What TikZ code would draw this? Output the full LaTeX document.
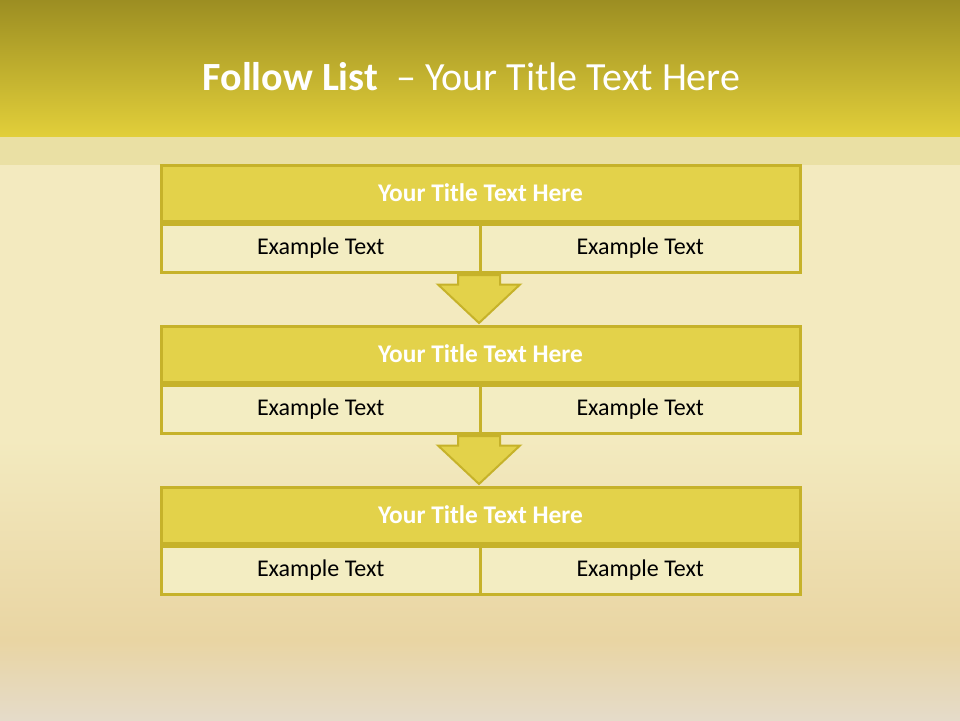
\documentclass[tikz,border=0pt]{standalone}
\usepackage{fontspec}
\setmainfont{Carlito}
\usetikzlibrary{calc}
\definecolor{bandtop}{HTML}{9C8E22}
\definecolor{bandbot}{HTML}{E2CF3A}
\definecolor{stripfill}{HTML}{EAE0A4}
\definecolor{paper}{HTML}{F3EABF}
\definecolor{paperlow}{HTML}{E9D5A3}
\definecolor{paperbot}{HTML}{E5DBC9}
\definecolor{boxline}{HTML}{C6B22A}
\definecolor{headfill}{HTML}{E3D24A}
\definecolor{cellfill}{HTML}{F3EDC2}
\begin{document}
\begin{tikzpicture}[x=1pt,y=-1pt,
  head/.style={draw=boxline,line width=3pt,fill=headfill,minimum width=639pt,minimum height=56pt,
    inner sep=0pt,text=white,font=\fontsize{25.4}{30}\selectfont\bfseries},
  cell/.style={draw=boxline,line width=3pt,fill=cellfill,minimum width=319.5pt,minimum height=48pt,
    inner sep=0pt,font=\fontsize{24}{28}\selectfont},
  flow/.style={draw=boxline,line width=2pt,fill=headfill}]
  \useasboundingbox (0,0) rectangle (960,720);
  % background
  \fill[paper] (0,0) rectangle (960,720);
  \shade[top color=paper,bottom color=paperlow] (0,440) rectangle (960,640);
  \shade[top color=paperlow,bottom color=paperbot] (0,640) rectangle (960,720);
  \shade[top color=bandtop,bottom color=bandbot] (0,0) rectangle (960,137);
  \fill[stripfill] (0,137) rectangle (960,165);
  \node[anchor=base,text=white,font=\fontsize{40}{48}\selectfont] (title) at (471.5,90)
    {\textbf{Follow List}\ \ – Your Title Text Here};
  % three blocks
  \foreach \i/\y in {1/193,2/354,3/515}{
    \node[head] (t\i) at (480.5,\y) {Your Title Text Here};
    \node[cell,anchor=north west] (l\i) at (t\i.south west) {Example Text};
    \node[cell,anchor=north east] (r\i) at (t\i.south east) {Example Text};
  }
  % arrows between blocks
  \foreach \i/\j in {1/2,2/3}
    \draw[flow] let \p1=(r\i.south west), \p2=(t\j.north) in
      (\x1-21pt,\y1-1.5pt) -- (\x1+21pt,\y1-1.5pt) -- (\x1+21pt,\y2+40pt) -- (\x1+41pt,\y2+40pt)
      -- (\x1,\y2+1.5pt) -- (\x1-41pt,\y2+40pt) -- (\x1-21pt,\y2+40pt) -- cycle;
\end{tikzpicture}
\end{document}
